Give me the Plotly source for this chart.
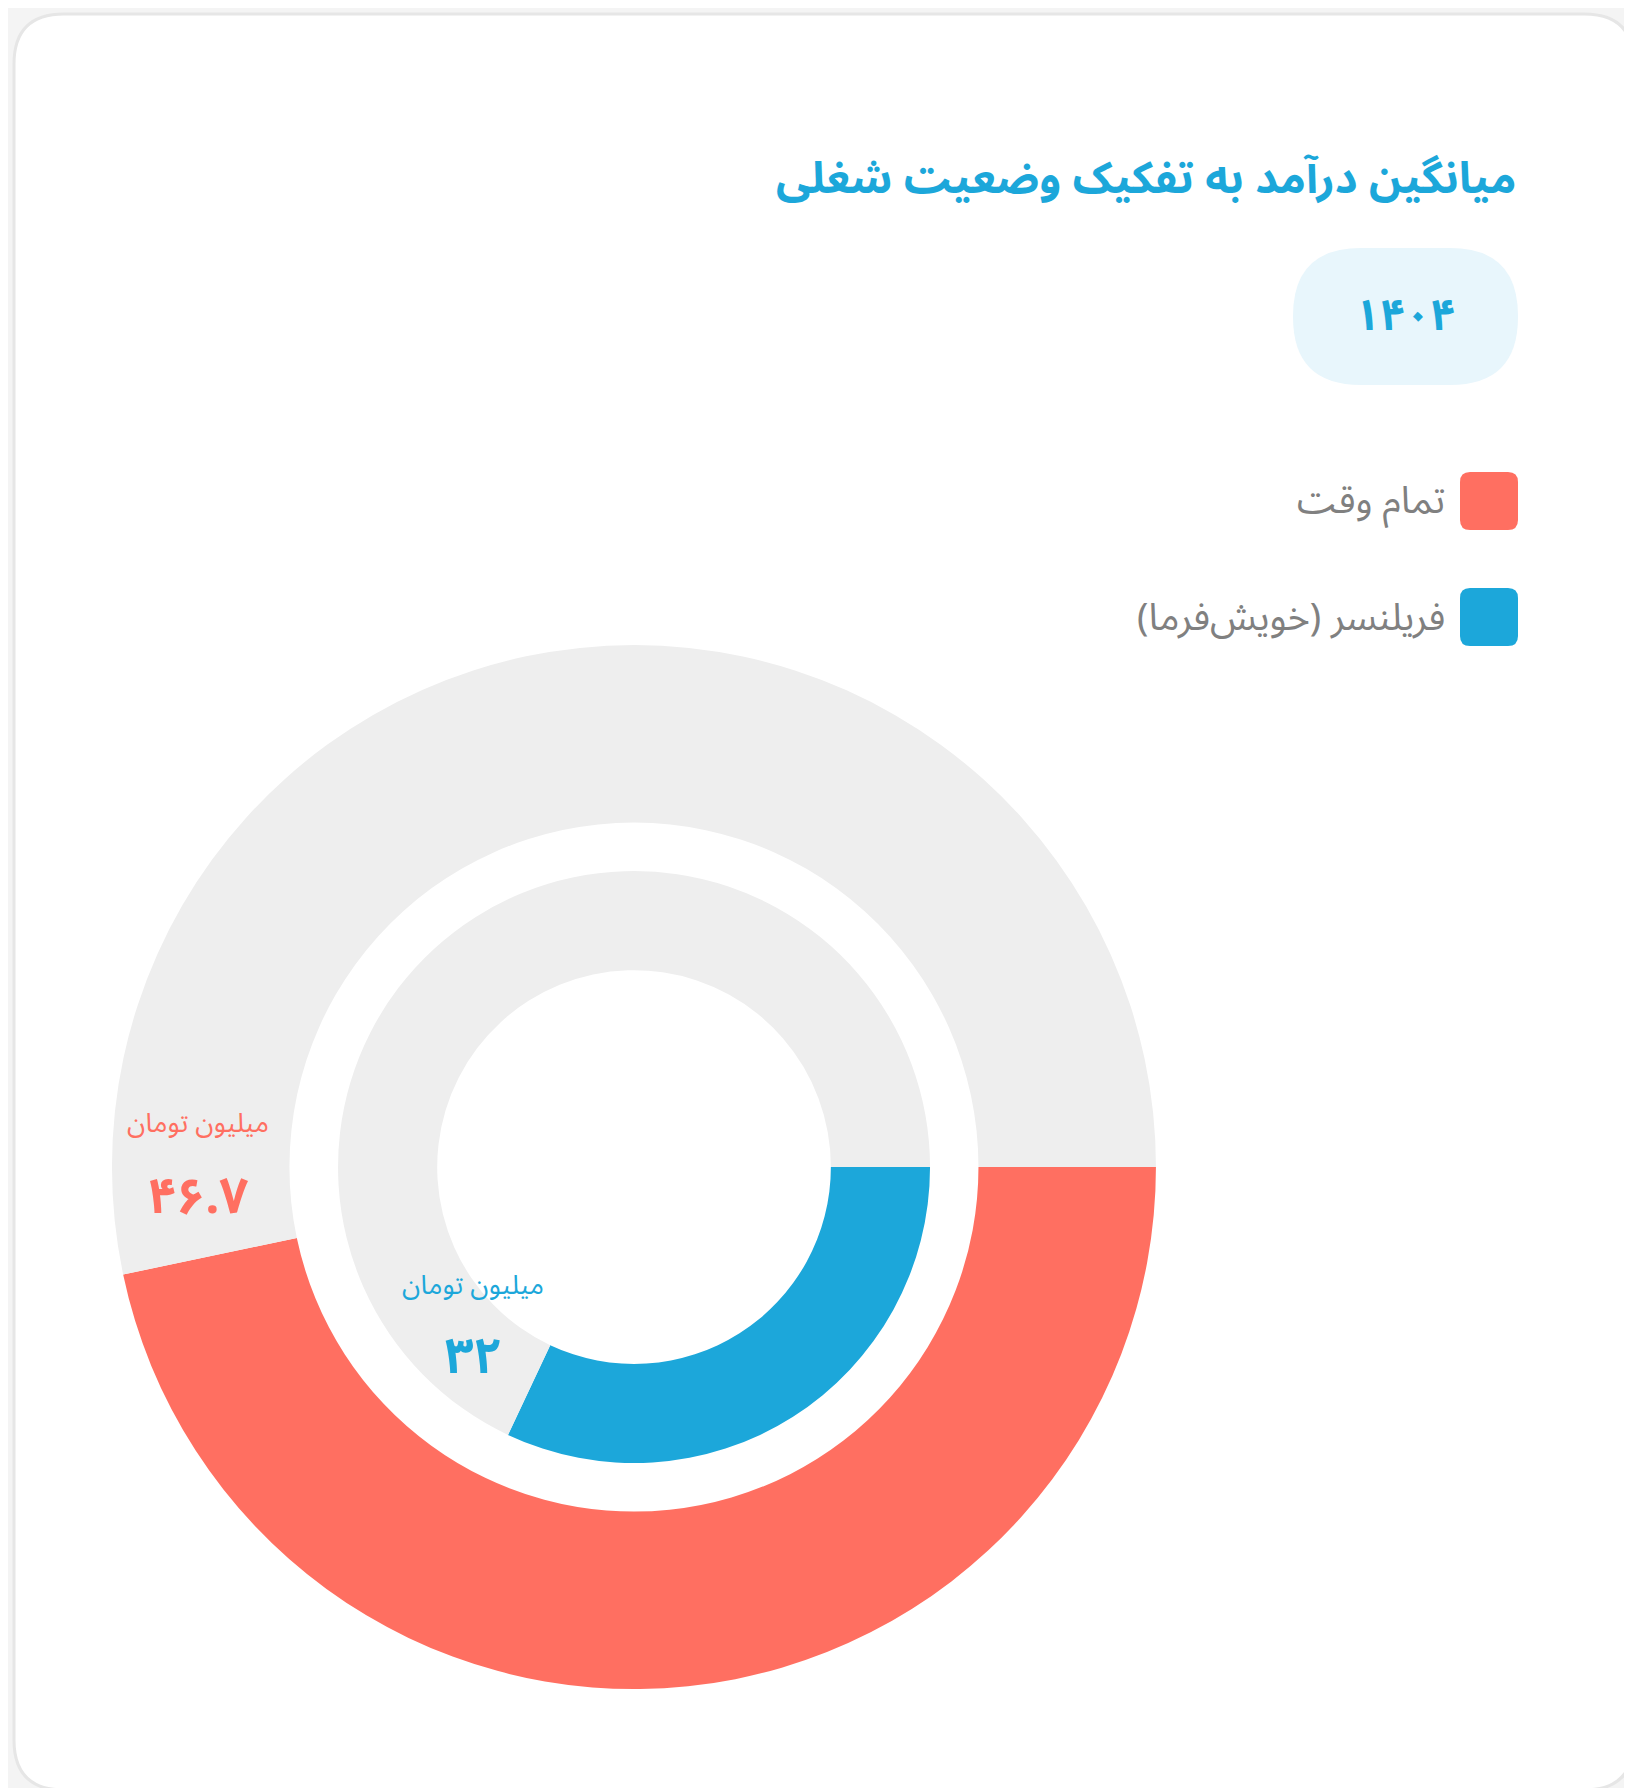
import plotly.graph_objects as go

W, H = 1632, 1788

# data
categories = ['تمام وقت', 'فریلنسر (خویش‌فرما)']
values = [46.7, 32]
total = 100
colors = ['#ff6f61', '#1ca7da']
rest_color = '#eeeeee'
unit = 'میلیون تومان'
year = '۱۴۰۴'
title = 'میانگین درآمد به تفکیک وضعیت شغلی'

FONT = 'Noto Sans Arabic, DejaVu Sans, sans-serif'
fa_digits = str.maketrans('0123456789', '۰۱۲۳۴۵۶۷۸۹')


def px(x, y):
    return x / W, 1 - y / H


fig = go.Figure()

# outer ring (full time) and inner ring (freelancer)
domains = [dict(x=[0.0637, 0.7034], y=[0.0598, 0.6437]),
           dict(x=[0.2022, 0.565], y=[0.1862, 0.5173])]
holes = [0.66, 0.665]
for i in range(2):
    fig.add_trace(go.Pie(
        values=[values[i], total - values[i]],
        labels=[categories[i], 'rest'],
        marker=dict(colors=[colors[i], rest_color], line=dict(width=0)),
        hole=holes[i], domain=domains[i], sort=False, direction='clockwise',
        rotation=90, textinfo='none', hoverinfo='skip', showlegend=False,
    ))

shapes = []
# card
shapes.append(dict(type='path', xref='paper', yref='paper', layer='below',
                   path='M %f,%f' % px(30, 6),
                   fillcolor='white', line=dict(width=0)))
x0, y0, x1, y1, r = 6, 6, W - 6, H - 6, 50


def rrect(x0, y0, x1, y1, r):
    p = f'M {x0+r},{y0} L {x1-r},{y0} Q {x1},{y0} {x1},{y0+r} L {x1},{y1-r} Q {x1},{y1} {x1-r},{y1} ' \
        f'L {x0+r},{y1} Q {x0},{y1} {x0},{y1-r} L {x0},{y0+r} Q {x0},{y0} {x0+r},{y0} Z'
    return p


shapes = [
    dict(type='path', xref='x', yref='y', layer='below', path=rrect(6, 6, W - 6, H - 6, 50),
         fillcolor='white', line=dict(color='#e6e6e6', width=3)),
    dict(type='path', xref='x', yref='y', layer='below', path=rrect(1285, 240, 1510, 377, 68),
         fillcolor='#e8f6fc', line=dict(width=0)),
    dict(type='path', xref='x', yref='y', path=rrect(1452, 464, 1510, 522, 10),
         fillcolor=colors[0], line=dict(width=0)),
    dict(type='path', xref='x', yref='y', path=rrect(1452, 580, 1510, 638, 10),
         fillcolor=colors[1], line=dict(width=0)),
]

ann = []
ann.append(dict(x=1510, y=171, text=f'<b>{title}</b>', xanchor='right',
                font=dict(size=44, color='#1ca7da')))
ann.append(dict(x=1397, y=308, text=f'<b>{year}</b>', xanchor='center',
                font=dict(size=44, color='#1ca7da')))
ann.append(dict(x=1439, y=493, text=categories[0], xanchor='right',
                font=dict(size=38, color='#808080')))
ann.append(dict(x=1439, y=610, text=categories[1], xanchor='right',
                font=dict(size=38, color='#808080')))
label_pos = [(190, 1115, 1189), (465, 1277, 1349)]
for i, (lx, uy, vy) in enumerate(label_pos):
    ann.append(dict(x=lx, y=uy, text=unit, xanchor='center',
                    font=dict(size=27, color=colors[i])))
    ann.append(dict(x=lx, y=vy, text='<b>' + str(values[i]).translate(fa_digits).replace('.', '.') + '</b>',
                    xanchor='center', font=dict(size=50, color=colors[i])))
for a in ann:
    a.update(xref='x', yref='y', yanchor='middle', showarrow=False)

fig.update_layout(
    width=W, height=H, margin=dict(l=0, r=0, t=0, b=0),
    paper_bgcolor='#f4f4f4', plot_bgcolor='rgba(0,0,0,0)',
    font=dict(family=FONT),
    xaxis=dict(range=[0, W], visible=False, fixedrange=True),
    yaxis=dict(range=[H, 0], visible=False, fixedrange=True),
    shapes=shapes, annotations=ann,
)

fig.write_html('out.html')
